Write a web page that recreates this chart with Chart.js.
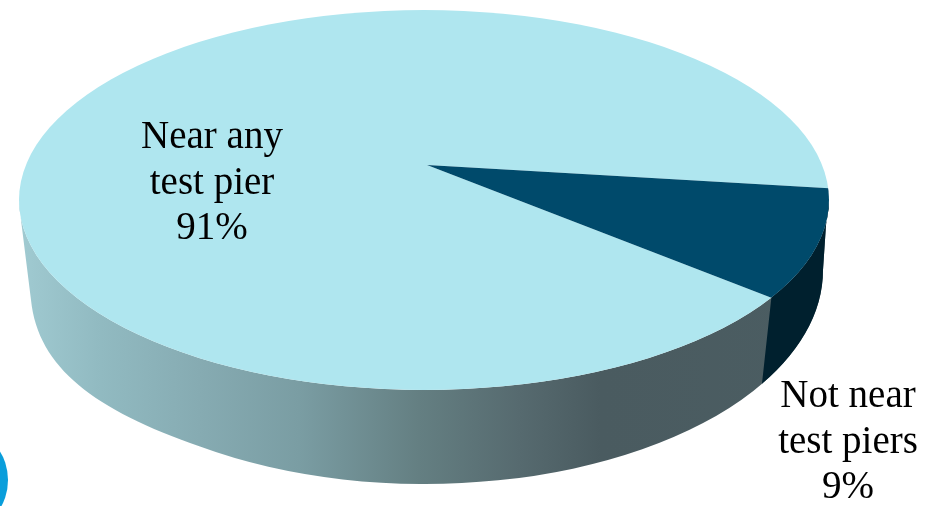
<!DOCTYPE html>
<html>
<head>
<meta charset="utf-8">
<title>Pier proximity</title>
<script src="https://cdn.jsdelivr.net/npm/chart.js@4/dist/chart.umd.min.js"></script>
<style>
  html, body { margin: 0; padding: 0; background: #fff; overflow: hidden; }
  #wrap { position: relative; width: 942px; height: 506px; overflow: hidden; }
  #blob { position: absolute; left: -66px; top: 434px; width: 74px; height: 92px; border-radius: 50%; background: #0a9edb; }
  #myChart { position: absolute; left: 0; top: 0; }
</style>
</head>
<body>
<div id="wrap">
  <div id="blob"></div>
  <canvas id="myChart" width="942" height="506"></canvas>
</div>
<script>
const labels = ["Near any test pier", "Not near test piers"];
const values = [91, 9];
const labelLines = [["Near any", "test pier"], ["Not near", "test piers"]];
const colorHex = ["#afe6ef", "#004a6b"];

// top face of the pie, and the slightly narrower rim at the bottom
const top_ = { x: 424, y: 200, rx: 405, ry: 190 };
const rim = { x: 425, y: 270, rx: 398, ry: 214 };
// slices meet here, above the middle of the ellipse (perspective in the original)
const apex = { x: 427, y: 165 };
const labelPos = [{ x: 212, y: 148 }, { x: 848, y: 407 }];
const lineGap = 45.5;

function ellipsePath(ctx, e) {
  ctx.beginPath();
  ctx.ellipse(e.x, e.y, e.rx, e.ry, 0, 0, Math.PI * 2);
}

// where a slice edge leaves the top face
function edgePoint(angle) {
  const k = top_.ry / top_.rx;
  const dx = Math.cos(angle), dy = k * Math.sin(angle);
  const ox = (apex.x - top_.x) / top_.rx, oy = (apex.y - top_.y) / top_.ry;
  const a = (dx / top_.rx) ** 2 + (dy / top_.ry) ** 2;
  const b = 2 * (ox * dx / top_.rx + oy * dy / top_.ry);
  const c = ox * ox + oy * oy - 1;
  const t = (-b + Math.sqrt(b * b - 4 * a * c)) / (2 * a);
  return { x: apex.x + t * dx, y: apex.y + t * dy };
}

function wallPath(ctx) {
  // the lower left corner of the original is fuller than an ellipse
  const cornerEnd = Math.acos((200 - rim.x) / rim.rx);
  ctx.beginPath();
  ctx.moveTo(21, 220);
  ctx.lineTo(31, 300);
  ctx.bezierCurveTo(38, 368, 95, 410, 200, rim.y + rim.ry * Math.sin(cornerEnd));
  ctx.ellipse(rim.x, rim.y, rim.rx, rim.ry, 0, cornerEnd, 0, true);
  ctx.lineTo(826, 225);
  ctx.lineTo(top_.x + top_.rx, top_.y);
  ctx.ellipse(top_.x, top_.y, top_.rx, top_.ry, 0, 0, Math.PI);
  ctx.closePath();
}

const pie3d = {
  id: 'pie3d',
  beforeDatasetsDraw(chart) {
    const ctx = chart.ctx;
    const arcs = chart.getDatasetMeta(0).data;
    const arc = arcs[0];

    // side wall
    const grad = ctx.createLinearGradient(20, 0, 826, 0);
    grad.addColorStop(0, '#a0cad1');
    grad.addColorStop(0.1, '#91bac1');
    grad.addColorStop(0.223, '#86abb2');
    grad.addColorStop(0.347, '#7a9da3');
    grad.addColorStop(0.495, '#647f82');
    grad.addColorStop(0.62, '#566a6f');
    grad.addColorStop(0.72, '#4a5b60');
    grad.addColorStop(1, '#4b5d62');
    ctx.save();
    wallPath(ctx);
    ctx.fillStyle = grad;
    ctx.fill();

    // dark part of the wall under the small slice
    const p = edgePoint(arcs[1].endAngle);
    const bx = rim.x + (p.x - top_.x) * 0.97;
    const by = rim.y + rim.ry * Math.sqrt(1 - ((bx - rim.x) / rim.rx) ** 2);
    wallPath(ctx);
    ctx.clip();
    ctx.beginPath();
    ctx.moveTo(p.x, p.y);
    ctx.lineTo(bx, by);
    ctx.lineTo(bx, 506);
    ctx.lineTo(942, 506);
    ctx.lineTo(942, 0);
    ctx.lineTo(p.x, 0);
    ctx.closePath();
    ctx.fillStyle = '#00202e';
    ctx.fill();
    ctx.restore();

    // squash the pie onto the top face
    const scale = 480 / arc.outerRadius;
    ctx.save();
    ellipsePath(ctx, top_);
    ctx.clip();
    ctx.translate(apex.x, apex.y);
    ctx.scale(scale, scale * top_.ry / top_.rx);
    ctx.translate(-arc.x, -arc.y);
  },
  afterDatasetsDraw(chart) {
    chart.ctx.restore();
  },
  afterDraw(chart) {
    const ctx = chart.ctx;
    ctx.save();
    ctx.fillStyle = '#000';
    ctx.font = '39px "Liberation Serif"';
    ctx.textAlign = 'center';
    ctx.textBaseline = 'alphabetic';
    labelLines.forEach((lines, i) => {
      const all = lines.concat(values[i] + '%');
      all.forEach((line, j) => {
        ctx.fillText(line, labelPos[i].x, labelPos[i].y + j * lineGap);
      });
    });
    ctx.restore();
  }
};

const ctx = document.getElementById('myChart').getContext('2d');
const myChart = new Chart(ctx, {
  type: 'pie',
  data: {
    labels: labels,
    datasets: [{
      data: values,
      backgroundColor: colorHex,
      borderWidth: 0
    }]
  },
  options: {
    responsive: false,
    animation: false,
    events: [],
    rotation: 129.4,
    plugins: {
      legend: { display: false },
      tooltip: { enabled: false }
    }
  },
  plugins: [pie3d]
});
</script>
</body>
</html>
